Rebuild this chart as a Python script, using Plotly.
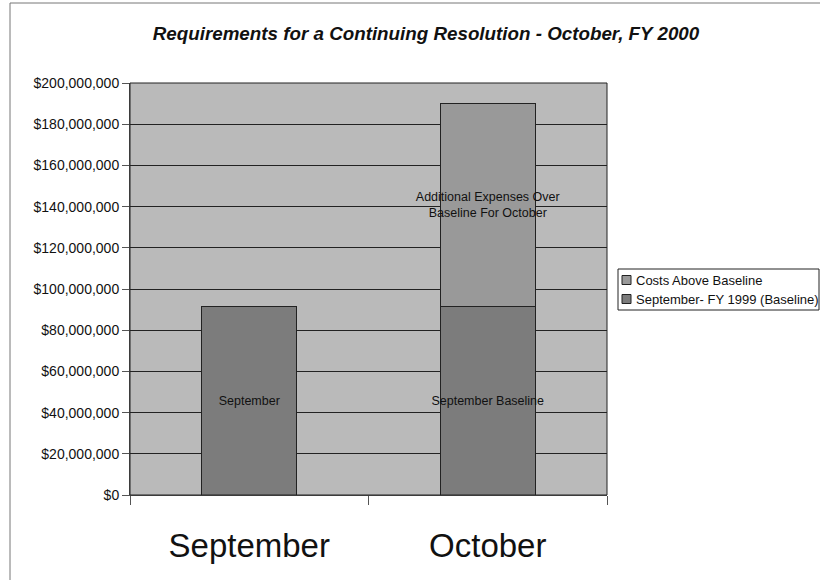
import plotly.graph_objects as go

categories = ["September", "October"]
baseline_values = [91_300_000, 91_300_000]
above_values = [0, 98_700_000]
baseline_labels = ["September", "September Baseline"]
above_labels = ["", "Additional Expenses Over<br>Baseline For October"]
series_names = ["September- FY 1999 (Baseline)", "Costs Above Baseline"]
series_colors = ["#7c7c7c", "#999999"]
y_ticks = list(range(0, 200_000_001, 20_000_000))

W, H = 820, 583
L, R, T, B = 130, 213, 83, 88
PW, PH = W - L - R, H - T - B


def px(xp):
    return (xp - L) / PW


def py(yp):
    return (H - B - yp) / PH


label_font = dict(family="Liberation Sans, Arial", size=12.5, color="#111")

fig = go.Figure()
fig.add_trace(go.Bar(
    x=categories, y=baseline_values, name=series_names[0],
    text=baseline_labels, textposition="inside", insidetextanchor="middle",
    constraintext="none", textangle=0, textfont=label_font,
    marker=dict(color=series_colors[0], line=dict(color="#222", width=1)),
    width=0.4,
))
fig.add_trace(go.Bar(
    x=categories, y=above_values, name=series_names[1],
    text=above_labels, textposition="inside", insidetextanchor="middle",
    constraintext="none", textangle=0, textfont=label_font,
    marker=dict(color=series_colors[1], line=dict(color="#222", width=1)),
    width=0.4,
))

fig.update_layout(
    width=W, height=H,
    barmode="stack",
    paper_bgcolor="white",
    plot_bgcolor="#bababa",
    margin=dict(l=L, r=R, t=T, b=B, autoexpand=False),
    title=dict(
        text="<b><i>Requirements for a Continuing Resolution - October, FY 2000</i></b>",
        x=426/W, xanchor="center", y=1-33/H, yanchor="middle",
        font=dict(family="Liberation Sans, Arial", size=18.8, color="#111"),
    ),
    font=dict(family="Liberation Sans, Arial", color="#111"),
    showlegend=False,
)
fig.update_xaxes(
    type="category", tickson="boundaries", ticks="outside", ticklen=9,
    tickcolor="#555", showline=True, linecolor="#555", linewidth=1,
    tickfont=dict(size=33, family="Liberation Sans, Arial", color="#111"),
    ticklabelstandoff=21, showgrid=False,
)
fig.update_yaxes(
    range=[0, 200_000_000], tickvals=y_ticks, tickformat="$,.0f",
    ticks="outside", ticklen=7, tickcolor="#555",
    showline=True, linecolor="#555", linewidth=1,
    showgrid=True, gridcolor="#222", gridwidth=1,
    tickfont=dict(size=14, family="Liberation Sans, Arial", color="#111"),
    zeroline=False,
)
# top/right frame of plot area
fig.add_shape(type="rect", xref="paper", yref="paper", x0=0, x1=1, y0=0, y1=1,
              line=dict(color="#222", width=1), layer="above")
# outer chart border (left and top edges visible in the scan)
fig.add_shape(type="line", xref="paper", yref="paper",
              x0=px(10), x1=px(10), y0=py(580), y1=py(3),
              line=dict(color="#777", width=1))
fig.add_shape(type="line", xref="paper", yref="paper",
              x0=px(10), x1=px(820), y0=py(3), y1=py(3),
              line=dict(color="#777", width=1))

# legend box (drawn like the original, running to the right edge)
fig.add_shape(type="rect", xref="paper", yref="paper",
              x0=px(618), x1=px(819), y0=py(310), y1=py(269),
              line=dict(color="#222", width=1), fillcolor="white")
legend_items = [(series_names[1], series_colors[1], 280),
                (series_names[0], series_colors[0], 299)]
for name, color, yc in legend_items:
    fig.add_shape(type="rect", xref="paper", yref="paper",
                  x0=px(622), x1=px(631), y0=py(yc + 4.5), y1=py(yc - 4.5),
                  line=dict(color="#222", width=1), fillcolor=color)
    fig.add_annotation(xref="paper", yref="paper", x=px(634), y=py(yc),
                       xanchor="left", yanchor="middle", showarrow=False,
                       text=name, font=dict(size=13, family="Liberation Sans, Arial", color="#111"))

fig.write_html("out.html", config={"displayModeBar": False},
               post_script="document.body.style.margin='0';")
